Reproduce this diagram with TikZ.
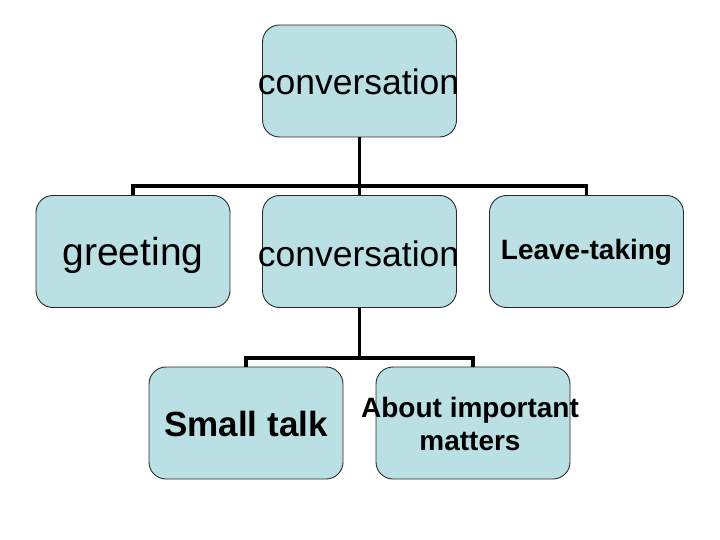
\documentclass[tikz,border=0pt]{standalone}
\usepackage{fontspec}
\setmainfont{Liberation Sans}
\definecolor{boxfill}{RGB}{187,224,228}
\definecolor{boxline}{RGB}{40,40,40}
\tikzset{
  orgbox/.style={draw=boxline, line width=0.9pt, fill=boxfill, rounded corners=17pt,
    minimum width=194pt, minimum height=112pt, inner sep=0pt, align=center},
  link/.style={draw=black, line width=3.4pt},
}
\begin{document}
\begin{tikzpicture}[x=1pt,y=-1pt]
\useasboundingbox (0,0) rectangle (720,540);
\node[orgbox] (top) at (359.5,81) {};
\node[orgbox] (greet) at (133,251.5) {};
\node[orgbox] (conv) at (359.5,251.5) {};
\node[orgbox] (leave) at (586.5,251.5) {};
\node[orgbox] (small) at (246,423) {};
\node[orgbox] (about) at (473,423) {};
% texts
\node (ttop) at (358.5,82) {\fontsize{35.5}{40}\selectfont conversation};
\node (tgreet) at (133,255) {\fontsize{39}{44}\selectfont greeting};
\node (tconv) at (358.5,254) {\fontsize{35.5}{40}\selectfont conversation};
\node (tleave) at (586.5,252) {\fontsize{28}{32}\selectfont\bfseries Leave-taking};
\node (tsmall) at (246,424) {\fontsize{35}{40}\selectfont\bfseries Small talk};
\node[align=center, font=\fontsize{28}{33}\selectfont\bfseries] (tabout) at (470,424) {About important\\matters};
% connectors
\coordinate (j1) at (359.5,186);
\coordinate (j2) at (359.5,358);
\draw[link] (top.south) -- (j1);
\draw[link] (greet.north) |- (j1) -| (leave.north);
\draw[link] (j1) -- (conv.north);
\draw[link] (conv.south) -- (j2);
\draw[link] (small.north) |- (j2) -| (about.north);
\end{tikzpicture}
\end{document}
